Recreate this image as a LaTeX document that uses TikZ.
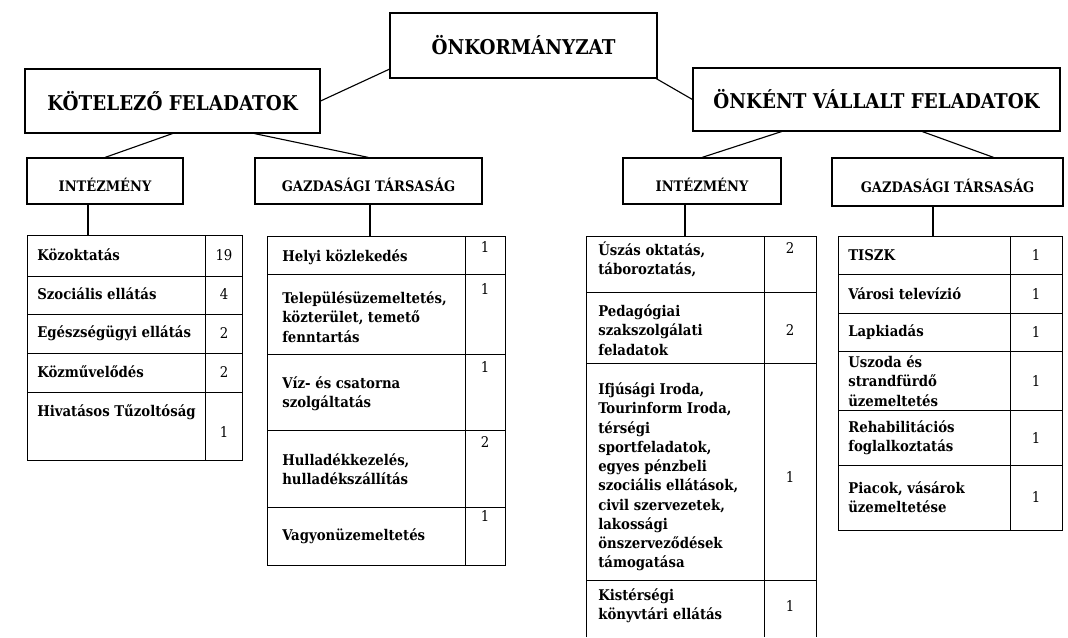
\documentclass[tikz,border=0pt]{standalone}
\usepackage{fontspec}
\setmainfont{DejaVu Serif Condensed}

\begin{document}
\begin{tikzpicture}[x=0.25mm, y=-0.25mm]
\tikzset{every node/.style={font=\bfseries\fontsize{10.5}{13.7}\selectfont, inner sep=0pt},
        fej/.style={draw, line width=0.8pt, font=\bfseries\fontsize{14.5}{16}\selectfont},
        alfej/.style={draw, line width=0.8pt, minimum height=11.5mm, text height=5mm, text depth=0pt, font=\bfseries\fontsize{10.3}{12}\selectfont},
        tetel/.style={anchor=west, align=left},
        szam/.style={font=\fontsize{10.5}{12}\selectfont},
        vonal/.style={line width=0.8pt},
        tabla/.style={line width=0.6pt}}
        \useasboundingbox (0,0) rectangle (1068,637);

        \node[fej, minimum width=66.75mm, minimum height=16.25mm] (onk) at (523.5,45.5) {ÖNKORMÁNYZAT};
        \node[fej, minimum width=73.75mm, minimum height=16mm] (kot) at (172.5,101) {KÖTELEZŐ FELADATOK};
        \node[fej, minimum width=91.75mm, minimum height=15.75mm] (onkent) at (876.5,99.5) {ÖNKÉNT VÁLLALT FELADATOK};

        \node[alfej, minimum width=39mm] (int1) at (105,181) {INTÉZMÉNY};
        \node[alfej, minimum width=56.75mm] (gazd1) at (368.5,181) {GAZDASÁGI TÁRSASÁG};
        \node[alfej, minimum width=39.5mm] (int2) at (702,181) {INTÉZMÉNY};
        \node[alfej, minimum width=57.75mm, minimum height=12mm] (gazd2) at (947.5,182) {GAZDASÁGI TÁRSASÁG};

        \draw[vonal] (onk.190) -- (kot.east);
        \draw[vonal] (onk.-14) -- (onkent.west);
        \draw[vonal] (kot.south) -- (int1.north);
        \draw[vonal] (kot.south -| gazd1.west) -- (gazd1.north);
        \draw[vonal] (onkent.south -| int2.east) -- (int2.north);
        \draw[vonal] (onkent.-35) -- (gazd2.28);

        \coordinate (t1) at (88,235);
        \coordinate (t2) at (370,236);
        \coordinate (t3) at (685,236);
        \coordinate (t4) at (933,236);
        \draw[vonal] (int1.south -| t1) -- (t1);
        \draw[vonal] (gazd1.south -| t2) -- (t2);
        \draw[vonal] (int2.south -| t3) -- (t3);
        \draw[vonal] (gazd2.south -| t4) -- (t4);

        \draw[tabla] (27,235) rectangle (242,460);
        \draw[tabla] (205,235) -- (205,460);
        \draw[tabla] (27,276) -- (242,276) (27,314) -- (242,314) (27,353) -- (242,353) (27,392) -- (242,392);

        \node[tetel] (t1a) at (37,255) {Közoktatás};
        \node[szam] (t1an) at (224,255) {19};
        \node[tetel] (t1b) at (37,294) {Szociális ellátás};
        \node[szam] (t1bn) at (224,294) {4};
        \node[tetel] (t1c) at (37,333) {Egészségügyi ellátás};
        \node[szam] (t1cn) at (224,333) {2};
        \node[tetel] (t1d) at (37,372) {Közművelődés};
        \node[szam] (t1dn) at (224,372) {2};
        \node[tetel] (t1e) at (37,412) {Hivatásos Tűzoltóság};
        \node[szam] (t1en) at (224,432) {1};

        \draw[tabla] (267,236) rectangle (505,565);
        \draw[tabla] (465,236) -- (465,565);
        \draw[tabla] (267,274) -- (505,274) (267,354) -- (505,354) (267,430) -- (505,430) (267,507) -- (505,507);

        \node[tetel] (t2a) at (282,257) {Helyi közlekedés};
        \node[szam] (t2an) at (485,247) {1};
        \node[tetel] (t2b) at (282,317) {Településüzemeltetés,\\közterület, temető\\fenntartás};
        \node[szam] (t2bn) at (485,289) {1};
        \node[tetel] (t2c) at (282,394) {Víz- és csatorna\\szolgáltatás};
        \node[szam] (t2cn) at (485,367) {1};
        \node[tetel] (t2d) at (282,469) {Hulladékkezelés,\\hulladékszállítás};
        \node[szam] (t2dn) at (485,442) {2};
        \node[tetel] (t2e) at (282,536) {Vagyonüzemeltetés};
        \node[szam] (t2en) at (485,516) {1};

        \draw[tabla] (586,637) -- (586,236) -- (816,236) -- (816,637);
        \draw[tabla] (764,236) -- (764,637);
        \draw[tabla] (586,292) -- (816,292) (586,363) -- (816,363) (586,580) -- (816,580);

        \node[tetel] (t3a) at (598,259) {Úszás oktatás,\\táboroztatás,};
        \node[szam] (t3an) at (790,248) {2};
        \node[tetel] (t3b) at (598,330) {Pedagógiai\\szakszolgálati\\feladatok};
        \node[szam] (t3bn) at (790,330) {2};
        \node[tetel] (t3c) at (598,477) {Ifjúsági Iroda,\\Tourinform Iroda,\\térségi\\sportfeladatok,\\egyes pénzbeli\\szociális ellátások,\\civil szervezetek,\\lakossági\\önszerveződések\\támogatása};
        \node[szam] (t3cn) at (790,477) {1};
        \node[tetel] (t3d) at (598,606) {Kistérségi\\könyvtári ellátás};
        \node[szam] (t3dn) at (790,606) {1};

        \draw[tabla] (838,236) rectangle (1062,530);
        \draw[tabla] (1010,236) -- (1010,530);
        \draw[tabla] (838,274) -- (1062,274) (838,313) -- (1062,313) (838,351) -- (1062,351) (838,410) -- (1062,410) (838,465) -- (1062,465);

        \node[tetel] (t4a) at (848,255) {TISZK};
        \node[szam] (t4an) at (1036,255) {1};
        \node[tetel] (t4b) at (848,294) {Városi televízió};
        \node[szam] (t4bn) at (1036,294) {1};
        \node[tetel] (t4c) at (848,332) {Lapkiadás};
        \node[szam] (t4cn) at (1036,332) {1};
        \node[tetel] (t4d) at (848,381) {Uszoda és\\strandfürdő\\üzemeltetés};
        \node[szam] (t4dn) at (1036,381) {1};
        \node[tetel] (t4e) at (848,438) {Rehabilitációs\\foglalkoztatás};
        \node[szam] (t4en) at (1036,438) {1};
        \node[tetel] (t4f) at (848,497) {Piacok, vásárok\\üzemeltetése};
        \node[szam] (t4fn) at (1036,497) {1};
\end{tikzpicture}
\end{document}
